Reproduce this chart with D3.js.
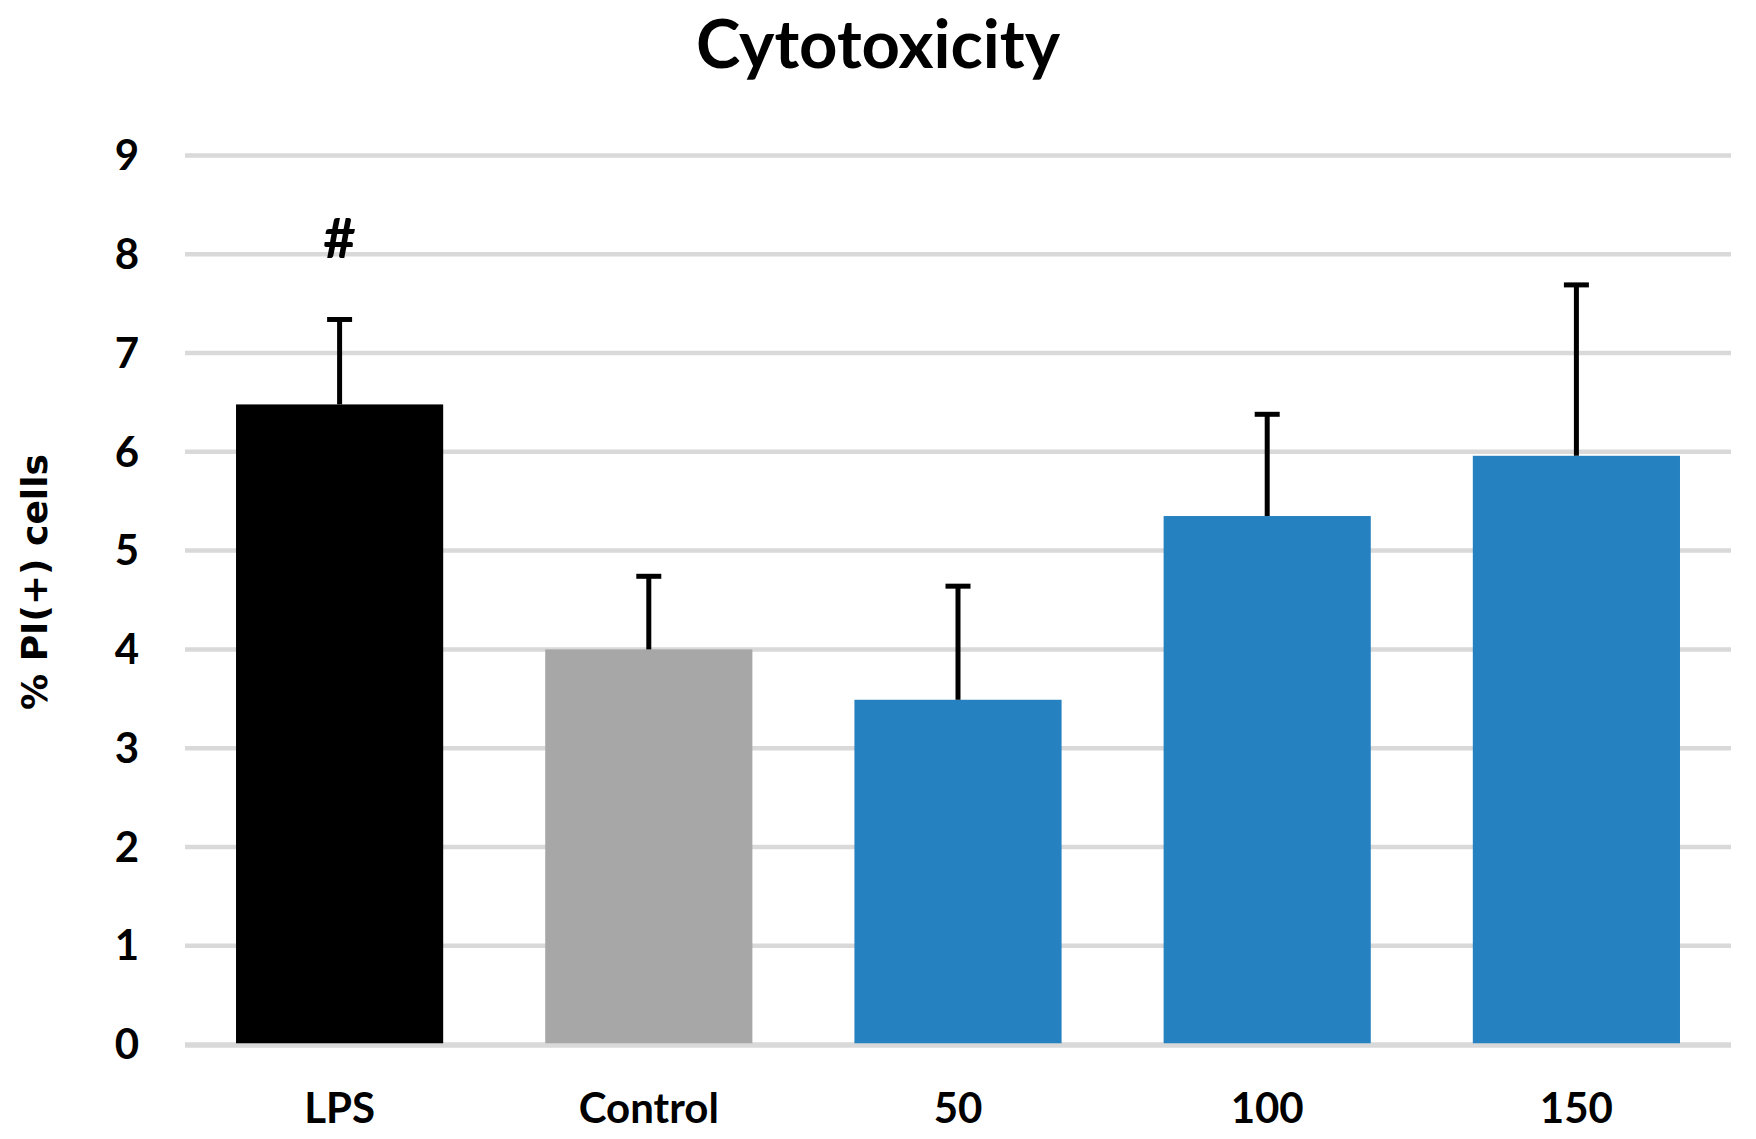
<!DOCTYPE html>
<html>
<head>
<meta charset="utf-8">
<script src="https://cdn.jsdelivr.net/npm/d3@7"></script>
<style>
  body { margin: 0; background: #fff; }
  text { font-family: Lato, "Open Sans", sans-serif; font-weight: bold; fill: #000; }
</style>
</head>
<body>
<div id="chart"></div>
<script>
const categories = ['LPS', 'Control', '50', '100', '150'];
const means = [6.48, 4.0, 3.49, 5.35, 5.96];
const errors = [0.86, 0.74, 1.15, 1.03, 1.73];
const marks = ['#', '', '', '', ''];
const barColors = ['#000000', '#a7a7a7', '#2581c0', '#2581c0', '#2581c0'];
const yTicks = [0, 1, 2, 3, 4, 5, 6, 7, 8, 9];

const width = 1756;
const height = 1139;
const margin = { top: 155.5, right: 25, bottom: 94.5, left: 185 };
const innerW = width - margin.left - margin.right;
const innerH = height - margin.top - margin.bottom;

const svg = d3.select('#chart').append('svg')
  .attr('width', width)
  .attr('height', height);

const g = svg.append('g')
  .attr('transform', `translate(${margin.left},${margin.top})`);

const x = d3.scaleBand()
  .domain(categories)
  .range([0, innerW])
  .paddingInner(0.33)
  .paddingOuter(0.165);

const y = d3.scaleLinear()
  .domain([0, 9])
  .range([innerH, 0]);

// gridlines
g.append('g')
  .selectAll('line')
  .data(yTicks)
  .enter().append('line')
  .attr('x1', 0)
  .attr('x2', innerW)
  .attr('y1', d => y(d))
  .attr('y2', d => y(d))
  .attr('stroke', '#d9d9d9')
  .attr('stroke-width', 4.5);

// y tick labels
g.append('g')
  .selectAll('text')
  .data(yTicks)
  .enter().append('text')
  .attr('x', -46)
  .attr('y', d => y(d))
  .attr('dy', '0.35em')
  .attr('text-anchor', 'end')
  .style('font-size', '42px')
  .text(d => d);

const rows = categories.map((c, i) => ({ c, v: means[i], e: errors[i], m: marks[i], col: barColors[i] }));

// bars
g.append('g')
  .selectAll('rect')
  .data(rows)
  .enter().append('rect')
  .attr('x', d => x(d.c))
  .attr('y', d => y(d.v))
  .attr('width', x.bandwidth())
  .attr('height', d => y(0) - y(d.v))
  .attr('fill', d => d.col);

// zero line on top of bars
g.append('line')
  .attr('x1', 0)
  .attr('x2', innerW)
  .attr('y1', y(0) + 1)
  .attr('y2', y(0) + 1)
  .attr('stroke', '#d9d9d9')
  .attr('stroke-width', 4.5);

// error bars (upper only)
const err = g.append('g').selectAll('g')
  .data(rows)
  .enter().append('g')
  .attr('transform', d => `translate(${x(d.c) + x.bandwidth() / 2},0)`);

err.append('line')
  .attr('x1', 0).attr('x2', 0)
  .attr('y1', d => y(d.v))
  .attr('y2', d => y(d.v + d.e))
  .attr('stroke', '#000')
  .attr('stroke-width', 5);

err.append('line')
  .attr('x1', -12.5).attr('x2', 12.5)
  .attr('y1', d => y(d.v + d.e))
  .attr('y2', d => y(d.v + d.e))
  .attr('stroke', '#000')
  .attr('stroke-width', 5);

err.append('text')
  .attr('y', d => y(d.v + d.e) - 61)
  .attr('text-anchor', 'middle')
  .style('font-size', '56px')
  .text(d => d.m);

// category labels
g.append('g')
  .selectAll('text')
  .data(categories)
  .enter().append('text')
  .attr('x', d => x(d) + x.bandwidth() / 2)
  .attr('y', innerH + 78)
  .attr('text-anchor', 'middle')
  .style('font-size', '42px')
  .text(d => d);

// title
svg.append('text')
  .attr('x', width / 2)
  .attr('y', 68)
  .attr('text-anchor', 'middle')
  .style('font-size', '67px')
  .text('Cytotoxicity');

// y axis title
svg.append('text')
  .attr('transform', 'translate(47,582) rotate(-90)')
  .attr('text-anchor', 'middle')
  .style('font-family', '"DejaVu Sans", Verdana, sans-serif')
  .style('font-size', '36px')
  .text('% PI(+) cells');
</script>
</body>
</html>
